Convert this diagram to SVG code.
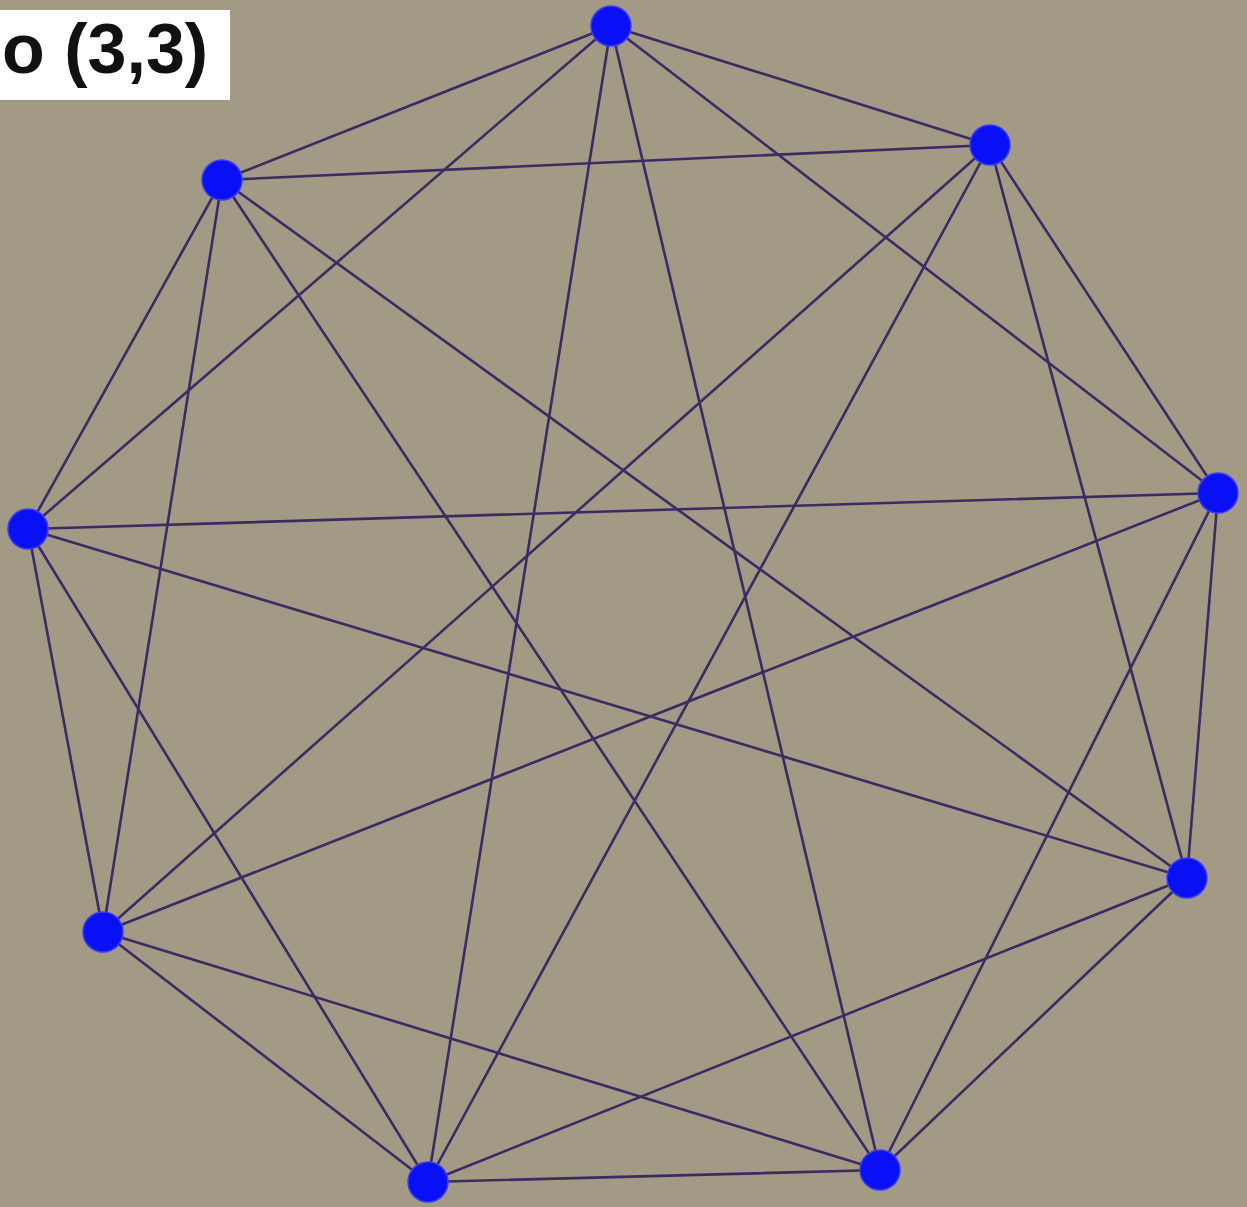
<svg xmlns="http://www.w3.org/2000/svg" width="1247" height="1207" viewBox="0 0 1247 1207">
<style>
.e{stroke:#3a2c62;stroke-width:2.6;fill:none;stroke-linecap:round}
.n{fill:#0a10f5;stroke:#3a3cf0;stroke-width:1.5}
.lbl{font-family:"Liberation Sans",Arial,sans-serif;font-weight:bold;font-size:70px;fill:#111}
</style>
<rect x="0" y="0" width="1247" height="1207" fill="#a39a86"/>
<g id="label">
<rect x="0" y="10" width="230" height="90" fill="#ffffff"/>
<text class="lbl" x="2" y="73">o (3,3)</text>
</g>
<g id="edges">
<line class="e" x1="611" y1="26" x2="222" y2="180"/>
<line class="e" x1="611" y1="26" x2="990" y2="145"/>
<line class="e" x1="611" y1="26" x2="28" y2="529"/>
<line class="e" x1="611" y1="26" x2="428" y2="1182"/>
<line class="e" x1="611" y1="26" x2="880" y2="1170"/>
<line class="e" x1="611" y1="26" x2="1218" y2="493"/>
<line class="e" x1="990" y1="145" x2="222" y2="180"/>
<line class="e" x1="990" y1="145" x2="103" y2="932"/>
<line class="e" x1="990" y1="145" x2="428" y2="1182"/>
<line class="e" x1="990" y1="145" x2="1218" y2="493"/>
<line class="e" x1="990" y1="145" x2="1187" y2="878"/>
<line class="e" x1="1218" y1="493" x2="28" y2="529"/>
<line class="e" x1="1218" y1="493" x2="103" y2="932"/>
<line class="e" x1="1218" y1="493" x2="880" y2="1170"/>
<line class="e" x1="1218" y1="493" x2="1187" y2="878"/>
<line class="e" x1="1187" y1="878" x2="28" y2="529"/>
<line class="e" x1="1187" y1="878" x2="222" y2="180"/>
<line class="e" x1="1187" y1="878" x2="428" y2="1182"/>
<line class="e" x1="1187" y1="878" x2="880" y2="1170"/>
<line class="e" x1="880" y1="1170" x2="222" y2="180"/>
<line class="e" x1="880" y1="1170" x2="103" y2="932"/>
<line class="e" x1="880" y1="1170" x2="428" y2="1182"/>
<line class="e" x1="428" y1="1182" x2="28" y2="529"/>
<line class="e" x1="428" y1="1182" x2="103" y2="932"/>
<line class="e" x1="103" y1="932" x2="28" y2="529"/>
<line class="e" x1="103" y1="932" x2="222" y2="180"/>
<line class="e" x1="28" y1="529" x2="222" y2="180"/>
</g>
<g id="nA"><circle class="n" cx="611" cy="26" r="20"/></g>
<g id="nB"><circle class="n" cx="990" cy="145" r="20"/></g>
<g id="nC"><circle class="n" cx="1218" cy="493" r="20"/></g>
<g id="nD"><circle class="n" cx="1187" cy="878" r="20"/></g>
<g id="nE"><circle class="n" cx="880" cy="1170" r="20"/></g>
<g id="nF"><circle class="n" cx="428" cy="1182" r="20"/></g>
<g id="nG"><circle class="n" cx="103" cy="932" r="20"/></g>
<g id="nH"><circle class="n" cx="28" cy="529" r="20"/></g>
<g id="nI"><circle class="n" cx="222" cy="180" r="20"/></g>
</svg>
